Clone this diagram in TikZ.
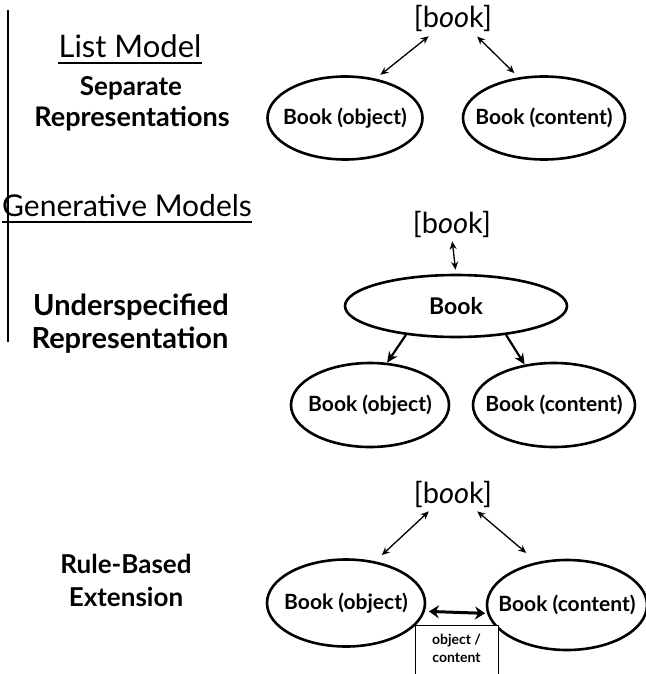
\documentclass[tikz,border=0pt]{standalone}
\usepackage{fontspec}
\setmainfont{Lato}
\usetikzlibrary{shapes.geometric,arrows.meta,calc}
\begin{document}
\begin{tikzpicture}[x=1pt,y=-1pt,
  title/.style={font=\fontsize{#1}{#1}\selectfont, inner sep=0pt, anchor=base},
  subtitle/.style={font=\bfseries\fontsize{#1}{#1}\selectfont, inner sep=0pt, anchor=base},
  sense/.style={ellipse, draw, line width=2.6pt, inner xsep=-20pt, inner ysep=-8pt,
    font=\bfseries\fontsize{21}{21}\selectfont},
  wordform/.style={font=\fontsize{29}{29}\selectfont, inner sep=2pt, anchor=base},
  link/.style={line width=1.3pt,
    {Stealth[length=8pt,width=7pt]}-{Stealth[length=8pt,width=7pt]}},
  gen/.style={line width=2.2pt, -{Stealth[length=11pt,width=10pt]}},
  rulelink/.style={line width=3pt,
    {Stealth[length=10pt,width=13pt]}-{Stealth[length=10pt,width=13pt]}},
  ulin/.style={line width=2pt}]
\useasboundingbox (0,0) rectangle (645,674);

% margin rule on the left
\draw[line width=1.2pt] (8,10) -- (8,342);

% left-hand captions
\node[title=31] (lm) at (130,58) {List Model};
\draw[ulin] ([yshift=-5pt]lm.base west) -- ([yshift=-5pt]lm.base east);
\node[subtitle=26] (sep) at (131,96) {Separate};
\node[subtitle=27] (reps) at (132,127) {Representations};
\node[title=30] (gm) at (127,216) {Generative Models};
\draw[ulin] ([yshift=-6pt]gm.base west) -- ([yshift=-6pt]gm.base east);
\node[subtitle=29] (und) at (131,315) {Underspecified};
\node[subtitle=29] (rep) at (130,348) {Representation};
\node[subtitle=26] (rb) at (126,573) {Rule-Based};
\node[subtitle=26] (ext) at (126,606) {Extension};

% list model
\node[wordform] (bk1) at (453,28) {[b\textit{oo}k]};
\node[sense, minimum width=155pt, minimum height=83pt] (obj1) at (345,118) {Book (object)};
\node[sense, minimum width=162pt, minimum height=83pt] (cont1) at (544,118) {Book (content)};
\draw[link, shorten <=3pt, shorten >=6pt] (bk1.215) -- (obj1.52);
\draw[link, shorten <=3pt, shorten >=6pt] (bk1.325) -- (cont1.122);

% underspecified representation
\node[wordform] (bk2) at (452,233) {[b\textit{oo}k]};
\node[sense, minimum width=222pt, minimum height=62pt,
  font=\bfseries\fontsize{23}{23}\selectfont] (book) at (456,306) {Book};
\node[sense, minimum width=158pt, minimum height=84pt] (obj2) at (370,405) {Book (object)};
\node[sense, minimum width=162pt, minimum height=84pt] (cont2) at (554,405) {Book (content)};
\draw[link, shorten <=2pt, shorten >=4pt] (bk2.south) -- (book.north);
\draw[gen] (book.210) -- (obj2.68);
\draw[gen] (book.330) -- (cont2.126);

% rule-based extension
\node[wordform] (bk3) at (453,503) {[b\textit{oo}k]};
\node[sense, minimum width=158pt, minimum height=87pt] (obj3) at (346,603) {Book (object)};
\node[sense, minimum width=160pt, minimum height=90pt] (cont3) at (567,605) {Book (content)};
\draw[link, shorten <=3pt, shorten >=9pt] (bk3.215) -- (obj3.55);
\draw[link, shorten <=3pt, shorten >=14pt] (bk3.325) -- (cont3.125);
\draw[rulelink, shorten <=4pt, shorten >=2pt] (obj3.-6) -- (cont3.186);
\node[draw, line width=0.9pt, anchor=north, minimum width=83pt, minimum height=62pt,
  align=center, inner sep=0pt, text depth=16pt, fill=white,
  font=\bfseries\fontsize{14}{18}\selectfont] (rule) at (456.5,625) {object /\\content};
\end{tikzpicture}
\end{document}
